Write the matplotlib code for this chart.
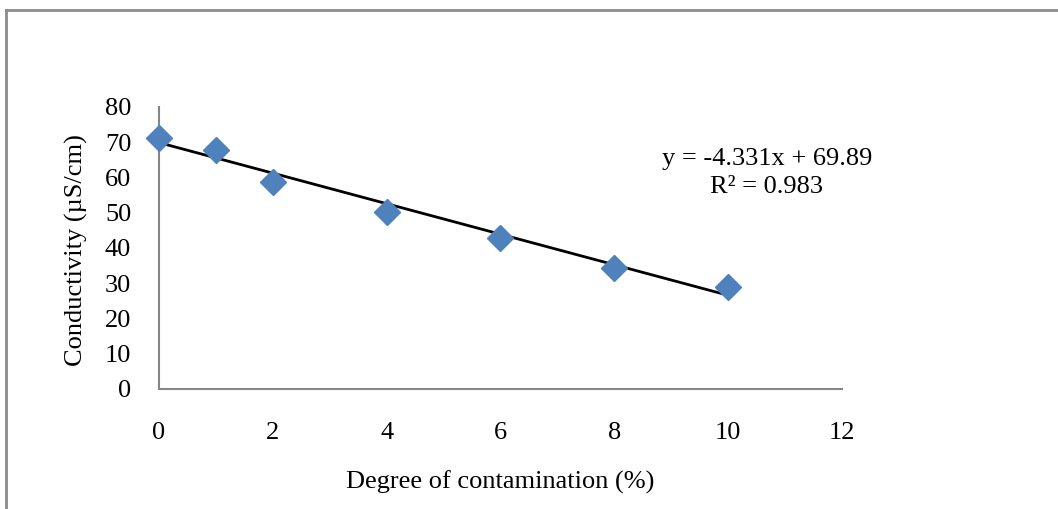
import matplotlib.pyplot as plt
import numpy as np
from matplotlib.lines import Line2D

plt.rcParams['font.family'] = ['Liberation Serif', 'DejaVu Serif']

# data
contamination = [0, 1, 2, 4, 6, 8, 10]
conductivity = [71.2, 67.8, 58.7, 50.2, 42.7, 34.2, 29.0]
slope, intercept = -4.331, 69.89
x_ticks = [0, 2, 4, 6, 8, 10, 12]
y_ticks = [0, 10, 20, 30, 40, 50, 60, 70, 80]

fig = plt.figure(figsize=(10.58, 5.09), dpi=100)
ax = fig.add_axes([0.1503, 0.2358, 0.6455, 0.554])

# trendline
xs = np.array([contamination[0], contamination[-1]])
ax.plot(xs, slope * xs + intercept, color='black', lw=2, zorder=2)
ax.plot(contamination, conductivity, linestyle='none', marker='D', ms=13,
        color='#4F81BD', markeredgecolor='#4F81BD', zorder=3, clip_on=False)

ax.set_xlim(0, 12)
ax.set_ylim(0, 80)
ax.set_xticks(x_ticks)
ax.set_yticks(y_ticks)
ax.tick_params(axis='x', length=0, pad=24, labelsize=19)
ax.tick_params(axis='y', length=0, pad=20, labelsize=19)
for s in ['top', 'right']:
    ax.spines[s].set_visible(False)
for s in ['left', 'bottom']:
    ax.spines[s].set_color('#868686')
    ax.spines[s].set_linewidth(1.5)

ax.text(10.68, 61.3, 'y = -4.331x + 69.89\nR² = 0.983', ha='center', va='center',
        multialignment='center', fontsize=19, linespacing=1.4)

fig.text(0.4726, 0.053, 'Degree of contamination (%)', ha='center', va='center', fontsize=19)
fig.text(0.0718, 0.509, 'Conductivity (µS/cm)', ha='center', va='center',
         rotation=90, fontsize=19)

# frame around the chart, cut off at right and bottom
fig.add_artist(Line2D([0.0057, 1.0], [0.9804, 0.9804], color='#8c8c8c', lw=2))
fig.add_artist(Line2D([0.0057, 0.0057], [0.0, 0.9804], color='#8c8c8c', lw=2))

fig.savefig('out.png', dpi=100)
